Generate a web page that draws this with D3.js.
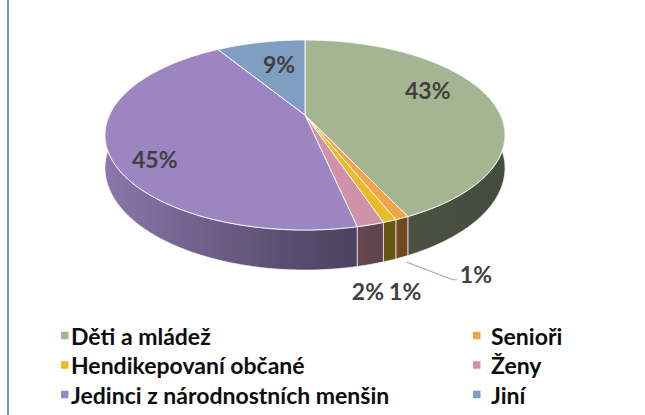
<!DOCTYPE html>
<html><head><meta charset="utf-8">
<script src="https://cdn.jsdelivr.net/npm/d3@7"></script>
<style>body{margin:0;background:#fff}svg{display:block}</style>
</head><body><svg id="c" width="645" height="415"></svg>
<script>
// ---- data ----
const categories = ["Děti a mládež","Senioři","Hendikepovaní občané","Ženy","Jedinci z národnostních menšin","Jiní"];
const values = [43.0, 0.9, 0.9, 1.8, 44.6, 8.8];
const colors = ["#a5b592","#f3a447","#e7bc29","#d092a7","#9c85c0","#809ec2"];

// ---- layout / style config ----
const W = 645, H = 415;
const cx = 305, cy = 115;        // projected centre of the top face
const K = 195.5, KS = 90.8;      // horizontal / vertical projected radius
const A = 0.2105;                // perspective strength
const DEPTH = 31.6;              // slab thickness (projected)
const labelFont = "Lato, 'Open Sans', sans-serif";
// label placement: inside labels at radius fraction, outside labels under the wall
const labelNudge = [[-3,-11],[74,17],[15.5,31.5],[-2.5,27.6],[-20,20],[6,2]];
const leaderFor = [false,true,false,false,false,false];

const svg = d3.select("#c");
svg.append("rect").attr("width",W).attr("height",H).attr("fill","#fff");

const pie = d3.pie().sort(null).value(d => d);
const arcs = pie(values);

function proj(theta, f = 1, z = 0) {
  const s = Math.sin(theta) * f, c = Math.cos(theta) * f;
  const den = 1 + A * c;
  return [cx + K * s / den, cy - KS * c / den + z * DEPTH / den];
}
function arcPts(a0, a1, z) {
  const n = Math.max(2, Math.ceil((a1 - a0) / 0.01));
  return d3.range(n + 1).map(i => proj(a0 + (a1 - a0) * i / n, 1, z));
}
const line = d3.line();

// gradients for walls
const defs = svg.append("defs");
const shade = [[0,0.9],[0.25,0.72],[0.5,0.56],[0.68,0.46],[1,0.42]];
arcs.forEach((a,i) => {
  const g = defs.append("linearGradient").attr("id","g"+i)
    .attr("gradientUnits","userSpaceOnUse")
    .attr("x1",cx-205).attr("x2",cx+205).attr("y1",0).attr("y2",0);
  shade.forEach(([o,k]) => {
    const c = d3.rgb(colors[i]);
    g.append("stop").attr("offset",o)
      .attr("stop-color", d3.rgb(c.r*k, c.g*k, c.b*k).formatHex());
  });
});

// walls (front half only)
const walls = svg.append("g");
arcs.forEach((a,i) => {
  const a0 = Math.max(a.startAngle, Math.PI/2), a1 = Math.min(a.endAngle, 3*Math.PI/2);
  if (a1 <= a0) return;
  const top = arcPts(a0, a1, 0), bot = arcPts(a0, a1, 1).reverse();
  walls.append("path").attr("d", line(top.concat(bot)) + "Z")
    .attr("fill", `url(#g${i})`).attr("stroke","#fff").attr("stroke-width",0.8)
    .attr("stroke-opacity",0.8).attr("stroke-linejoin","round");
});

// tops
const tops = svg.append("g");
arcs.forEach((a,i) => {
  const pts = [[cx,cy]].concat(arcPts(a.startAngle, a.endAngle, 0));
  tops.append("path").attr("d", line(pts) + "Z")
    .attr("fill", colors[i]).attr("stroke","#fff").attr("stroke-width",0.9)
    .attr("stroke-linejoin","round");
});

// data labels
const LFS = 23, cap = 0.72 * LFS;
const lab = svg.append("g").attr("font-family",labelFont).attr("font-weight",700)
  .attr("font-size",LFS).attr("fill","#404040").attr("text-anchor","middle");
arcs.forEach((a,i) => {
  const mid = (a.startAngle + a.endAngle) / 2;
  const inside = values[i] >= 5;
  const anchor = inside ? proj(mid, 0.68, 0) : proj(mid, 1, 1);
  const x = anchor[0] + labelNudge[i][0], y = anchor[1] + labelNudge[i][1];
  if (leaderFor[i]) {
    const s = [anchor[0] + 5, anchor[1] + 5];
    svg.append("path").attr("d", line([s, [x - 23, y + 5.5], [x - 19, y + 5.5]]))
      .attr("fill","none").attr("stroke","#a6a6a6").attr("stroke-width",1.2);
  }
  lab.append("text").attr("x",x).attr("y",y + cap/2)
    .text(Math.round(values[i]) + "%");
});

// legend
const legend = svg.append("g").attr("font-family",labelFont).attr("font-weight",700)
  .attr("font-size",23).attr("fill","#0d0d0d");
const colX = [[61,71],[473,491]], rowY0 = 335.5, rowStep = 29.5;
categories.forEach((c,i) => {
  const col = i % 2, row = Math.floor(i / 2);
  const y = rowY0 + row * rowStep;
  legend.append("rect").attr("x",colX[col][0]).attr("y",y-3.75).attr("width",7.5).attr("height",7.5)
    .attr("fill",colors[i]);
  legend.append("text").attr("x",colX[col][1]).attr("y",y+9).text(c);
});

// left border of the chart frame
svg.append("line").attr("x1",8).attr("x2",8).attr("y1",0).attr("y2",H)
  .attr("stroke","#4472c4").attr("stroke-width",1.5);
</script></body></html>
